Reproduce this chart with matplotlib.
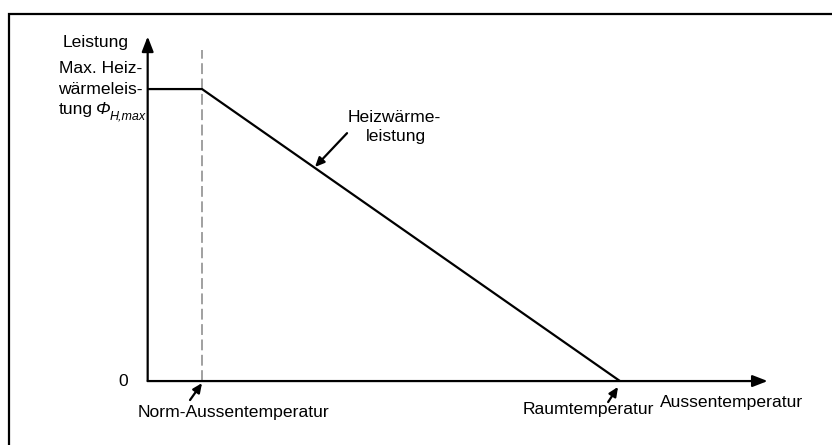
import numpy as np
import matplotlib
matplotlib.use("Agg")
import matplotlib.pyplot as plt
from matplotlib.patches import Rectangle

#--- data -------------------------------------------------------------------#
t_norm   = -10.0     # Norm-Aussentemperatur [degC]
t_room   = 20.0      # Raumtemperatur [degC]
phi_max  = 1.0       # max. Heizwaermeleistung (normiert)

# heating power curve: constant below t_norm, linear down to 0 at t_room
t_curve   = [-13.9, t_norm, t_room]
phi_curve = [phi_max, phi_max, 0.0]

#--- figure -----------------------------------------------------------------#
plt.rcParams['font.family'] = ['Liberation Sans', 'DejaVu Sans']

fig = plt.figure(figsize=(8.32, 4.45), dpi=100)
ax  = fig.add_axes([0, 0, 1, 1])
ax.set_xlim(-24.5, 35.22)
ax.set_ylim(-0.219, 1.305)
ax.axis('off')

fs = 12.6
x0, y0 = t_curve[0], 0.0

# axes with arrow heads
arr = dict(arrowstyle='-|>,head_length=0.9,head_width=0.35', color='black',
           lw=1.6, shrinkA=0, shrinkB=0)
ax.annotate('', xy=(30.6, y0), xytext=(x0, y0), arrowprops=arr)
ax.annotate('', xy=(x0, 1.18), xytext=(x0, y0), arrowprops=arr)

# dashed marker line at norm temperature
ax.plot([t_norm, t_norm], [y0, 1.135], color='#999999', lw=1.3,
        dashes=(6, 2.5))

# heating power curve
ax.plot(t_curve, phi_curve, color='black', lw=1.6, solid_capstyle='butt')

# labels
ax.text(-15.3, 1.16, "Leistung", fontsize=fs, ha='right', va='center')
ax.text(-20.3, 1.07, "Max. Heiz-", fontsize=fs, ha='left', va='center')
ax.text(-20.3, 1.0, "wärmeleis-", fontsize=fs, ha='left', va='center')
ax.text(-20.3, 0.93, "tung", fontsize=fs, ha='left', va='center')
ax.text(-17.6, 0.93, "Φ", fontsize=fs, fontstyle='italic', ha='left',
        va='center')
ax.text(-16.65, 0.905, "H,max", fontsize=9, fontstyle='italic', ha='left',
        va='center')
ax.text(-15.3, 0.0, "0", fontsize=fs, ha='right', va='center')

small = dict(arrowstyle='-|>,head_length=0.55,head_width=0.25', color='black',
             lw=1.6, shrinkA=0, shrinkB=0)
ax.text(-14.6, -0.106, "Norm-Aussentemperatur", fontsize=fs, ha='left',
        va='center')
ax.annotate('', xy=(t_norm, -0.007), xytext=(-10.86, -0.065),
            arrowprops=small)

ax.text(13.04, -0.099, "Raumtemperatur", fontsize=fs, ha='left', va='center')
ax.annotate('', xy=(t_room - 0.14, -0.02), xytext=(19.15, -0.072),
            arrowprops=small)
ax.text(22.88, -0.075, "Aussentemperatur", fontsize=fs, ha='left', va='center')

ax.text(3.78, 0.904, "Heizwärme-", fontsize=fs, ha='center', va='center')
ax.text(3.93, 0.836, "leistung", fontsize=fs, ha='center', va='center')
ax.annotate('', xy=(-1.89, 0.733), xytext=(0.41, 0.849), arrowprops=small)

# outer frame (only top and left edges visible)
fig.patches.append(Rectangle((9 / 832, -0.1), 1.2, 1 - 14 / 445 + 0.1,
                             transform=fig.transFigure, fill=False,
                             edgecolor='black', lw=1.6))

fig.savefig("out.png", dpi=100)
